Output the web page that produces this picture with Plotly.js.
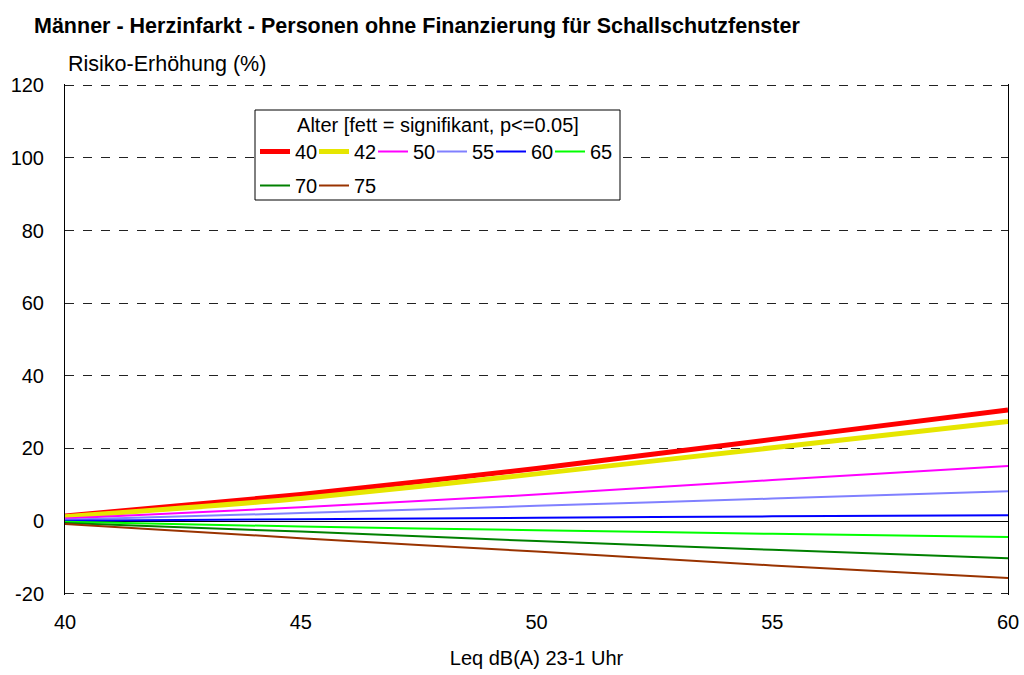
<!DOCTYPE html>
<html>
<head>
<meta charset="utf-8">
<script src="https://cdn.plot.ly/plotly-3.0.1.min.js"></script>
<style>body{margin:0;padding:0;background:#fff}#chart{width:1024px;height:675px}</style>
</head>
<body>
<div id="chart"></div>
<script>
const xValues = [40, 45, 50, 55, 60];
const xTickLabels = ["40", "45", "50", "55", "60"];
const yTickValues = [-20, 0, 20, 40, 60, 80, 100, 120];
const yTickLabels = ["-20", "0", "20", "40", "60", "80", "100", "120"];
const seriesNames = ["40", "42", "50", "55", "60", "65", "70", "75"];
const age40 = [1.4, 7.3, 14.5, 22.5, 30.6];
const age42 = [1.2, 6.2, 13.0, 20.2, 27.4];
const age50 = [0.7, 3.8, 7.3, 11.3, 15.2];
const age55 = [0.4, 2.2, 4.2, 6.2, 8.2];
const age60 = [0.1, 0.5, 0.9, 1.3, 1.6];
const age65 = [-0.2, -1.5, -2.5, -3.5, -4.4];
const age70 = [-0.5, -2.9, -5.5, -7.9, -10.2];
const age75 = [-0.8, -4.7, -8.4, -12.2, -15.7];
const seriesValues = [age40, age42, age50, age55, age60, age65, age70, age75];
const colors = ["#FF0000", "#E6E600", "#FF00FF", "#8080FF", "#0000FF", "#00FF00", "#008000", "#993300"];
const widths = [5, 5, 2, 2, 2, 2, 2, 2];
const legendOf = ["legend", "legend", "legend", "legend", "legend", "legend", "legend2", "legend2"];
const lastInRow = [false, false, false, false, false, true, false, true];

const font = "Liberation Sans, Arial, sans-serif";
const traces = seriesNames.map((n, i) => ({
  x: xValues, y: seriesValues[i], name: n, type: "scatter", mode: "lines",
  legend: legendOf[i], legendwidth: lastInRow[i] ? 26 : 14,
  line: {color: colors[i], width: widths[i], shape: "spline", smoothing: 0.6}
}));

const plotTop = 84, plotBottom = 595, plotLeft = 65, plotRight = 1008;
const ph = plotBottom - plotTop, pw = plotRight - plotLeft;
const px = p => (p - plotLeft) / pw;
const py = p => (plotBottom - p) / ph;

const legendCommon = {
  orientation: "h", xanchor: "left", yanchor: "top",
  bgcolor: "rgba(0,0,0,0)", borderwidth: 0,
  font: {family: font, size: 20, color: "#000"},
  itemwidth: 30, traceorder: "normal"
};

const layout = {
  width: 1024, height: 675,
  margin: {l: plotLeft, r: 1024 - plotRight, t: plotTop, b: 675 - plotBottom},
  paper_bgcolor: "#fff", plot_bgcolor: "#fff",
  font: {family: font, size: 20, color: "#000"},
  title: {text: "<b>Männer - Herzinfarkt - Personen ohne Finanzierung für Schallschutzfenster</b>",
          x: 34/1024, xanchor: "left", y: 1 - 25/675, yanchor: "middle",
          font: {family: font, size: 21.5, color: "#000"}},
  xaxis: {range: [40, 60], tickvals: xValues, ticktext: xTickLabels, ticks: "", showgrid: false,
          zeroline: false, showline: false, ticklabelstandoff: 13,
          tickfont: {size: 20},
          title: {text: "Leq dB(A) 23-1 Uhr", font: {size: 20}, standoff: 18}},
  yaxis: {range: [-20.35, 120.35], tickvals: yTickValues, ticktext: yTickLabels, ticks: "",
          showline: true, mirror: true, linecolor: "#000", linewidth: 1,
          showgrid: true, gridcolor: "#222", griddash: "dash", gridwidth: 1,
          zeroline: true, zerolinecolor: "#000", zerolinewidth: 1,
          tickfont: {size: 20}, ticklabelstandoff: 16},
  showlegend: true,
  legend: Object.assign({}, legendCommon, {
    x: px(255), y: py(106),
    title: {text: "Alter [fett = signifikant, p<=0.05]", side: "top center", font: {size: 20}}
  }),
  legend2: Object.assign({}, legendCommon, {x: px(255), y: py(166)}),
  shapes: [{type: "rect", xref: "paper", yref: "paper", layer: "above",
            x0: px(255), x1: px(620), y0: py(200), y1: py(110),
            fillcolor: "#fff", line: {color: "#000", width: 1}}],
  annotations: [{text: "Risiko-Erhöhung (%)", xref: "paper", yref: "paper", x: 0, y: py(64),
                 xanchor: "left", yanchor: "middle", showarrow: false, xshift: 1,
                 font: {family: font, size: 21.5, color: "#000"}}]
};
Plotly.newPlot("chart", traces, layout, {displayModeBar: false, staticPlot: true});
</script>
</body>
</html>
